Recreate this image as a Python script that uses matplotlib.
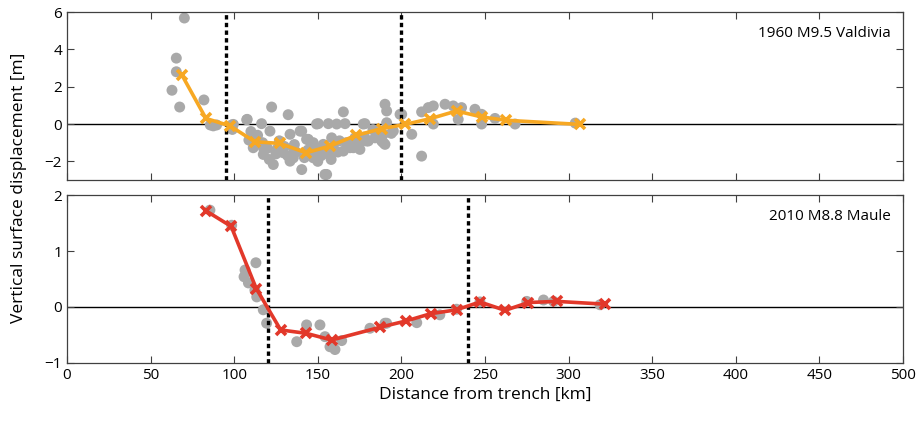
import numpy as np
import matplotlib.pyplot as plt

plt.rcParams['font.family'] = ['Open Sans', 'DejaVu Sans']

# 1960 Valdivia: observed points (km, m)
val_obs_x = [70.2, 65.4, 65.4, 62.8, 67.4, 81.9, 85.7, 89.5, 98.5, 98.9, 107.5, 108.8,
             87.5, 99.5, 107.8, 116.4, 122.4, 132.3, 111.4, 111.4, 117.4, 117.4, 123.4,
             121.4, 129.4, 133.4, 135.4, 135.4, 140.4, 140.4, 144.3, 147.3, 150.3, 155.3,
             150.3, 156.3, 158.3, 159.3, 165.3, 166.3, 165.3, 171.3, 172.2, 178.2, 179.2,
             184.2, 190.2, 191.2, 191.2, 189.2, 189.2, 195.2, 200.2, 206.2, 212.1, 212.1,
             216.1, 128.4, 133.4, 139.4, 143.3, 149.3, 161.3, 177.2, 199.2, 147.3, 153.3,
             154.3, 159.3, 169.3, 175.2, 172.2, 180.2, 185.2, 188.2, 190.2, 219.1, 226.1,
             231.0, 236.0, 244.0, 234.0, 219.1, 248.0, 248.0, 256.0, 268.0, 304.0,
             117.0, 120.0, 125.0, 130.0, 132.0, 137.0, 142.0, 145.0, 150.0, 152.0,
             156.0, 158.0, 162.0, 168.0, 175.0, 114.0, 127.0, 146.0, 163.0, 183.0,
             121.0, 126.0, 136.0, 144.0, 153.0, 167.0, 178.0, 186.0, 194.0, 110.0]
val_obs_y = [5.68, 3.53, 2.80, 1.81, 0.91, 1.29, -0.05, -0.05, -0.05, -0.29, 0.23, -0.86,
             -0.10, -0.02, 0.25, 0.02, 0.91, 0.50, -0.74, -1.27, -1.27, -1.63, -2.17,
             -0.38, -1.54, -0.55, -1.27, -1.81, -2.44, -0.38, -0.82, -1.81, -1.36, -2.70,
             0.02, 0.02, -0.74, -1.27, 0.65, 0.02, -1.45, -1.27, -0.88, 0.02, -0.91,
             -0.74, 1.06, 0.70, 0.07, -0.55, -1.00, -0.38, 0.52, -0.55, 0.65, -1.72,
             0.88, -1.45, -1.99, -0.38, -0.82, 0.00, 0.00, 0.00, 0.52, -1.00, -1.09,
             -2.70, -1.45, -1.27, -1.36, -0.74, -0.91, -0.47, -0.91, -1.09, 0.97, 1.06,
             0.97, 0.88, 0.79, 0.25, 0.00, 0.00, 0.52, 0.30, 0.00, 0.05,
             -1.00, -1.30, -1.60, -1.20, -1.70, -1.50, -1.80, -1.60, -2.00, -1.70,
             -1.60, -1.90, -1.50, -1.20, -1.00, -0.60, -0.90, -1.10, -0.90, -0.30,
             -1.90, -1.30, -1.10, -1.40, -1.30, -1.00, -0.70, -0.60, -0.50, -0.40]

# 1960 Valdivia: binned profile
val_bin_x = [68.6, 83.1, 97.5, 112.4, 127.4, 143.0, 157.3, 172.8, 188.2, 202.2, 217.0,
             233.0, 248.0, 262.6, 306.8]
val_bin_y = [2.65, 0.30, -0.10, -0.95, -1.04, -1.54, -1.18, -0.61, -0.25, -0.02, 0.28,
             0.70, 0.38, 0.20, -0.02]

# 2010 Maule: observed points
mau_obs_x = [85.5, 98.5, 113.0, 106.5, 105.9, 108.5, 112.4, 113.5, 117.4, 119.4, 137.4,
             143.3, 151.3, 154.3, 157.3, 160.3, 164.3, 181.2, 191.2, 209.2, 190.2, 223.0,
             275.0, 285.0, 291.0, 318.8, 247.0, 233.0]
mau_obs_y = [1.73, 1.46, 0.79, 0.66, 0.54, 0.43, 0.30, 0.18, -0.05, -0.29, -0.62,
             -0.32, -0.32, -0.53, -0.71, -0.76, -0.60, -0.38, -0.29, -0.28, -0.29, -0.14,
             0.10, 0.125, 0.10, 0.04, 0.09, -0.04]

# 2010 Maule: binned profile
mau_bin_x = [83.0, 98.2, 113.2, 127.8, 143.0, 158.3, 187.5, 202.7, 217.5, 233.0, 247.0,
             262.0, 276.0, 293.0, 322.0]
mau_bin_y = [1.72, 1.44, 0.33, -0.41, -0.47, -0.59, -0.36, -0.25, -0.12, -0.05, 0.09,
             -0.06, 0.08, 0.10, 0.05]

val_bounds = [95, 200]
mau_bounds = [120, 240]

gray = '#a9a9a9'
orange = '#f7a823'
red = '#e2382a'
frame = '#404040'

fig = plt.figure(figsize=(9.2, 4.21), dpi=100)
ax1 = fig.add_axes([0.0728, 0.5724, 0.9087, 0.399])
ax2 = fig.add_axes([0.0728, 0.1378, 0.9087, 0.399])


def style(ax):
    ax.set_xlim(0, 500)
    ax.set_xticks(np.arange(0, 501, 50))
    ax.tick_params(direction='in', top=True, right=True, length=5,
                   labelsize=11, color=frame, width=0.8)
    for s in ax.spines.values():
        s.set_color(frame)
        s.set_linewidth(0.9)
    ax.axhline(0, color='black', lw=1.0, zorder=1)


for ax, ox, oy, bx, by, col, bnd, lab in [
        (ax1, val_obs_x, val_obs_y, val_bin_x, val_bin_y, orange, val_bounds, '1960 M9.5 Valdivia'),
        (ax2, mau_obs_x, mau_obs_y, mau_bin_x, mau_bin_y, red, mau_bounds, '2010 M8.8 Maule')]:
    style(ax)
    ax.scatter(ox, oy, s=62, color=gray, edgecolors='none', zorder=2)
    for b in bnd:
        ax.axvline(b, color='black', lw=2.4, linestyle=(0, (1.3, 1.0)), zorder=3)
    ax.plot(bx, by, color=col, lw=2.6, marker='x', markersize=7,
            markeredgewidth=2.6, zorder=4)
    ax.text(0.985, 0.875, lab, transform=ax.transAxes, ha='right', va='center',
            fontsize=11)

ax1.set_ylim(-3, 6)
ax1.set_yticks([-2, 0, 2, 4, 6])
ax1.tick_params(labelbottom=False)

ax2.set_ylim(-1, 2)
ax2.set_yticks([-1, 0, 1, 2])
ax2.set_xlabel('Distance from trench [km]', fontsize=12.5, labelpad=3)

fig.text(0.021, 0.555, 'Vertical surface displacement [m]', rotation=90,
         ha='center', va='center', fontsize=12.5)

fig.savefig('out.png', dpi=100)
